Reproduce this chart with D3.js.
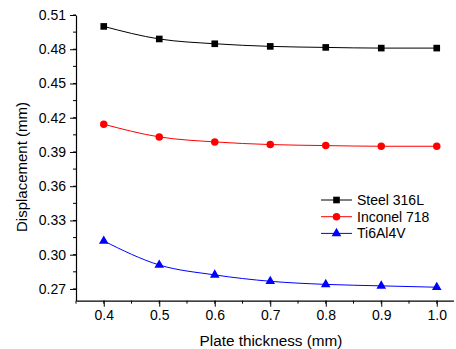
<!DOCTYPE html>
<html>
<head>
<meta charset="utf-8">
<script src="https://cdn.jsdelivr.net/npm/d3@7"></script>
<style>
  body { margin: 0; background: #fff; }
  text { font-family: "Liberation Sans", Arial, sans-serif; fill: #000; }
</style>
</head>
<body>
<script>
// data
var thickness = [0.4, 0.5, 0.6, 0.7, 0.8, 0.9, 1.0];
var steel316L = [0.500, 0.489, 0.4848, 0.4825, 0.4816, 0.481, 0.481];
var inconel718 = [0.4143, 0.4032, 0.3988, 0.3965, 0.3956, 0.395, 0.395];
var ti6al4v = [0.312, 0.291, 0.2823, 0.2767, 0.274, 0.2727, 0.2715];
var seriesNames = ["Steel 316L", "Inconel 718", "Ti6Al4V"];
var xTicks = [0.4, 0.5, 0.6, 0.7, 0.8, 0.9, 1.0];
var yTicks = [0.27, 0.30, 0.33, 0.36, 0.39, 0.42, 0.45, 0.48, 0.51];

var width = 456, height = 349;
var plotLeft = 76, plotRight = 453.4, plotTop = 15, plotBottom = 300.7;

var svg = d3.select("body").append("svg")
    .attr("width", width)
    .attr("height", height);

var x = d3.scaleLinear().domain([0.35, 1.03]).range([plotLeft, plotRight]);
var y = d3.scaleLinear().domain([0.2597, 0.51]).range([plotBottom, plotTop]);

// minor ticks
var xMinor = d3.range(0.35, 1.031, 0.05).map(function(d){ return +d.toFixed(2); });
var yMinor = d3.range(0.27, 0.511, 0.015).map(function(d){ return +d.toFixed(3); });

svg.append("g").selectAll("line").data(xMinor).enter().append("line")
    .attr("x1", function(d){ return x(d); })
    .attr("x2", function(d){ return x(d); })
    .attr("y1", plotBottom).attr("y2", plotBottom + 3)
    .style("stroke", "#000");
svg.append("g").selectAll("line").data(yMinor).enter().append("line")
    .attr("y1", function(d){ return y(d); })
    .attr("y2", function(d){ return y(d); })
    .attr("x1", plotLeft).attr("x2", plotLeft - 3)
    .style("stroke", "#000");

// x-axis
svg.append("g")
    .attr("transform", "translate(0," + plotBottom + ")")
    .call(d3.axisBottom(x).tickValues(xTicks).tickSizeInner(6).tickSizeOuter(0)
        .tickPadding(3).tickFormat(d3.format(".1f")))
    .call(function(g){
        g.selectAll("text").style("font-size", "14px")
            .style("font-family", "Liberation Sans, Arial, sans-serif");
        g.select(".domain").style("stroke-width", 1.2);
    });

// y-axis
svg.append("g")
    .attr("transform", "translate(" + plotLeft + ",0)")
    .call(d3.axisLeft(y).tickValues(yTicks).tickSizeInner(6).tickSizeOuter(0)
        .tickPadding(4).tickFormat(d3.format(".2f")))
    .call(function(g){
        g.selectAll("text").style("font-size", "14px")
            .style("font-family", "Liberation Sans, Arial, sans-serif");
        g.select(".domain").style("stroke-width", 1.2);
    });

// axis labels
svg.append("text")
    .text("Plate thickness (mm)")
    .attr("x", 271)
    .attr("y", 346)
    .attr("text-anchor", "middle")
    .style("font-size", "15.3px");

svg.append("text")
    .text("Displacement (mm)")
    .attr("transform", "translate(27,167) rotate(-90)")
    .attr("text-anchor", "middle")
    .style("font-size", "15px");

var series = [
    {name: seriesNames[0], values: steel316L, color: "#000000", shape: d3.symbolSquare, size: 44},
    {name: seriesNames[1], values: inconel718, color: "#ff0000", shape: d3.symbolCircle, size: 44},
    {name: seriesNames[2], values: ti6al4v, color: "#0000ff", shape: d3.symbolTriangle, size: 40}
];

var line = d3.line()
    .x(function(d){ return x(d[0]); })
    .y(function(d){ return y(d[1]); })
    .curve(d3.curveMonotoneX);

series.forEach(function(s){
    var pts = thickness.map(function(t, i){ return [t, s.values[i]]; });
    svg.append("path")
        .attr("d", line(pts))
        .style("fill", "none")
        .style("stroke", s.color)
        .style("stroke-width", 1);
    svg.append("g").selectAll("path").data(pts).enter().append("path")
        .attr("d", d3.symbol().type(s.shape).size(s.size))
        .attr("transform", function(d){ return "translate(" + x(d[0]) + "," + y(d[1]) + ")"; })
        .style("fill", s.color);
});

// legend
var legend = svg.append("g").attr("transform", "translate(321,200)");
series.forEach(function(s, i){
    var g = legend.append("g").attr("transform", "translate(0," + (i * 16.7) + ")");
    g.append("line").attr("x1", 0).attr("x2", 31).attr("y1", 0).attr("y2", 0)
        .style("stroke", s.color).style("stroke-width", 1);
    g.append("path").attr("d", d3.symbol().type(s.shape).size(s.size))
        .attr("transform", "translate(15.5,0)")
        .style("fill", s.color);
    g.append("text").text(s.name)
        .attr("x", 36).attr("y", 5)
        .style("font-size", "14px");
});
</script>
</body>
</html>
